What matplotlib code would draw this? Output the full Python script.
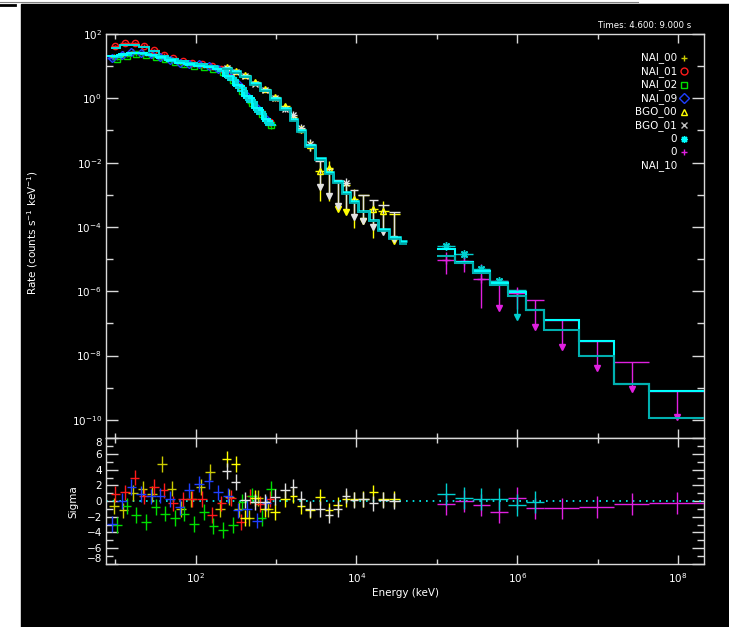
import numpy as np
import matplotlib
matplotlib.use("Agg")
import matplotlib.pyplot as plt
from matplotlib.patches import Rectangle
from matplotlib.lines import Line2D
from matplotlib.ticker import FixedLocator, NullFormatter

nan = np.nan

# all energies are log10(keV), all rates log10(counts s^-1 keV^-1)

# ---- NaI detectors: bin centres (half width NAI_HW), rates, models, residuals
NAI_HW = 0.06
nai_err = [0.05, 0.04, 0.04, 0.04, 0.04, 0.04, 0.04, 0.04, 0.04, 0.04, 0.04, 0.04, 0.05, 0.06, 0.07, 0.09, 0.11]

nai00_e = [0.98, 1.10, 1.22, 1.34, 1.46, 1.58, 1.70, 1.82, 1.94, 2.06, 2.18, 2.30, 2.42, 2.54, 2.66, 2.78, 2.90]
nai00_rate = [1.30, 1.38, 1.43, 1.41, 1.35, 1.26, 1.18, 1.11, 1.06, 1.02, 0.97, 0.91, 0.67, 0.37, 0.01, -0.37, -0.71]
nai00_model = [1.31, 1.38, 1.42, 1.40, 1.34, 1.25, 1.17, 1.10, 1.05, 1.01, 0.96, 0.90, 0.67, 0.37, 0.02, -0.35, -0.70]
nai00_resid = [-0.6, -1.2, 1.0, 1.6, 0.9, 4.7, 1.6, -1.0, 0.3, 1.8, 3.7, -1.0, 0.5, -1.0, -2.2, 0.4, -1.0]

nai01_e = [1.00, 1.12, 1.24, 1.36, 1.48, 1.60, 1.72, 1.84, 1.96, 2.08, 2.20, 2.32, 2.44, 2.56, 2.68, 2.80, 2.92]
nai01_rate = [1.62, 1.72, 1.72, 1.64, 1.50, 1.36, 1.24, 1.16, 1.11, 1.07, 1.02, 0.92, 0.66, 0.34, -0.02, -0.40, -0.74]
nai01_model = [1.57, 1.67, 1.67, 1.60, 1.46, 1.33, 1.23, 1.15, 1.10, 1.06, 1.01, 0.92, 0.64, 0.32, -0.04, -0.42, -0.76]
nai01_resid = [0.9, 1.1, 3.0, 0.6, 1.8, 1.35, -0.3, 0.2, 0.3, 0.3, -1.8, -0.3, 0.4, -2.7, 0.6, -0.4, 0.3]

nai02_e = [1.02, 1.14, 1.26, 1.38, 1.50, 1.62, 1.74, 1.86, 1.98, 2.10, 2.22, 2.34, 2.46, 2.58, 2.70, 2.82, 2.94]
nai02_rate = [1.23, 1.33, 1.37, 1.35, 1.29, 1.21, 1.13, 1.06, 1.01, 0.98, 0.92, 0.82, 0.56, 0.22, -0.14, -0.50, -0.84]
nai02_model = [1.30, 1.36, 1.40, 1.39, 1.32, 1.24, 1.16, 1.09, 1.05, 1.01, 0.96, 0.86, 0.57, 0.24, -0.12, -0.48, -0.82]
nai02_resid = [-3.1, -0.6, -1.8, -2.7, -0.8, -1.6, -2.2, -1.6, -2.9, -1.4, -3.2, -3.7, -3.1, -0.1, 0.7, -2.2, 1.6]

nai09_e = [0.96, 1.08, 1.20, 1.32, 1.44, 1.56, 1.68, 1.80, 1.92, 2.04, 2.16, 2.28, 2.40, 2.52, 2.64, 2.76, 2.88]
nai09_rate = [1.25, 1.35, 1.43, 1.42, 1.37, 1.29, 1.19, 1.11, 1.08, 1.06, 1.01, 0.92, 0.71, 0.43, 0.06, -0.31, -0.65]
nai09_model = [1.31, 1.35, 1.40, 1.40, 1.36, 1.28, 1.18, 1.11, 1.06, 1.02, 0.97, 0.90, 0.70, 0.42, 0.07, -0.29, -0.64]
nai09_resid = [-2.9, 0.0, 1.8, 0.9, 0.6, 0.7, 0.3, -0.8, 1.35, 2.2, 2.6, 1.1, 0.7, -1.2, -1.0, -2.5, -0.3]

# ---- BGO detectors (shared bins)
bgo_edges = [2.33, 2.44, 2.55, 2.68, 2.80, 2.92, 3.05, 3.17, 3.26, 3.36, 3.48,
             3.61, 3.71, 3.82, 3.92, 4.02, 4.15, 4.27, 4.40, 4.54, 4.63]

bgo0_rate = [0.96, 0.86, 0.72, 0.52, 0.30, 0.04, -0.25, -0.58, -0.95, -1.45,
             -2.25, -2.18, nan, nan, -3.13, nan, -3.44, -3.49, nan, nan]
bgo0_up = [0.04, 0.04, 0.04, 0.05, 0.05, 0.06, 0.07, 0.08, 0.10, 0.14,
           0.30, 0.22, nan, nan, 0.30, nan, 0.25, 0.30, nan, nan]
bgo0_down = [0.04, 0.04, 0.05, 0.05, 0.06, 0.07, 0.08, 0.10, 0.13, 0.20,
             0.95, 1.00, nan, nan, 0.90, nan, 0.90, 0.70, nan, nan]
bgo0_ul = [nan, nan, nan, nan, nan, nan, nan, nan, nan, nan,
           nan, nan, -2.60, -2.70, nan, -3.00, nan, nan, -3.60, nan]
bgo0_model = [0.95, 0.84, 0.70, 0.47, 0.27, 0.00, -0.30, -0.65, -1.00, -1.45,
              -1.86, -2.30, -2.58, -2.92, -3.20, -3.50, -3.77, -4.06, -4.32, -4.45]
bgo0_resid = [5.4, 4.7, -2.2, 0.4, -1.0, -1.4, 0.3, 0.7, -0.6, -1.2,
              0.5, -1.2, -0.5, 0.3, 0.2, 0.3, 1.1, 0.2, 0.3, nan]

bgo1_rate = [0.93, 0.82, 0.68, 0.46, 0.26, 0.00, -0.32, -0.51, -0.92, -1.42,
             nan, nan, nan, -2.64, nan, nan, nan, nan, nan, nan]
bgo1_up = [0.04, 0.04, 0.05, 0.05, 0.06, 0.07, 0.08, 0.10, 0.12, 0.15,
           nan, nan, nan, 0.15, nan, nan, nan, nan, nan, nan]
bgo1_down = [0.04, 0.05, 0.05, 0.06, 0.07, 0.08, 0.10, 0.12, 0.15, 0.22,
             nan, nan, nan, 0.85, nan, nan, nan, nan, nan, nan]
bgo1_ul = [nan, nan, nan, nan, nan, nan, nan, nan, nan, nan,
           -1.94, -2.20, -2.53, nan, -2.85, -3.00, -3.16, -3.33, -3.55, nan]
bgo1_model = [0.90, 0.80, 0.66, 0.42, 0.22, -0.05, -0.36, -0.70, -1.05, -1.50,
              -1.92, -2.36, -2.62, -2.97, -3.25, -3.55, -3.82, -4.12, -4.38, -4.52]
bgo1_resid = [3.8, 2.4, 0.1, -0.1, -0.1, 0.5, 1.35, 1.8, 0.3, -1.0,
              -1.0, -1.8, -1.0, 0.7, 0.1, 0.2, -0.3, 0.1, 0.0, nan]

# ---- LAT ("0") detectors (shared bins)
lat_edges = [5.0, 5.226, 5.446, 5.661, 5.882, 6.105, 6.333, 6.768, 7.208, 7.643, 8.33]

lat0_rate = [-4.58, -4.85, -5.30, -5.68, nan, nan, nan, nan, nan, nan]
lat0_up = [0.10, 0.10, 0.13, 0.12, nan, nan, nan, nan, nan, nan]
lat0_down = [0.10, 0.10, 0.13, 0.12, nan, nan, nan, nan, nan, nan]
lat0_ul = [nan, nan, nan, nan, -5.96, nan, nan, nan, nan, nan]
lat0_model = [-4.91, -5.13, -5.43, -5.81, -6.16, -6.58, -7.20, -8.02, -8.88, -9.94]
lat0_resid = [0.85, 0.4, 0.3, 0.3, -0.55, -0.15, nan, nan, nan, nan]

lat1_rate = [-5.02, -5.06, -5.62, nan, -6.05, nan, nan, nan, nan, nan]
lat1_up = [0.23, 0.27, 0.47, nan, 0.19, nan, nan, nan, nan, nan]
lat1_down = [0.46, 0.34, 0.90, nan, 0.50, nan, nan, nan, nan, nan]
lat1_ul = [nan, nan, nan, -5.69, nan, -6.27, -6.91, -7.56, -8.21, -9.09]
lat1_model = [-4.685, -5.10, -5.36, -5.75, -6.03, -6.58, -6.91, -7.56, -8.88, -9.09]
lat1_resid = [-0.4, 0.0, -0.55, -1.4, 0.4, -0.95, -0.95, -0.75, -0.4, -0.25]

legend_labels = ["NAI_00", "NAI_01", "NAI_02", "NAI_09", "BGO_00", "BGO_01", "0", "0", "NAI_10"]

YEL_NAI = "#cccc00"
RED = "#ff1a1a"
GRN = "#00e000"
BLU = "#1f3fff"
YEL_BGO = "#ffff00"
WHT = "#e2e2e2"
CYN = "#00ffff"
TEAL = "#00b0b0"
MAG = "#e020e0"
FRAME = "#d9d9d9"
ASTER = (8, 2, 0)
UL_DROP = 0.83


def arr(a):
    return np.asarray(a, dtype=float)


def points(ax, lo, hi, rate, down, up, color, marker, ms=4.5):
    lo, hi, rate, down, up = map(arr, (lo, hi, rate, down, up))
    ok = ~np.isnan(rate)
    mid = (lo + hi) / 2
    x, y = 10 ** mid[ok], 10 ** rate[ok]
    xerr = [x - 10 ** lo[ok], 10 ** hi[ok] - x]
    yerr = [y - 10 ** (rate[ok] - down[ok]), 10 ** (rate[ok] + up[ok]) - y]
    ax.errorbar(x, y, xerr=xerr, yerr=yerr, fmt="none", ecolor=color, elinewidth=1, zorder=3)
    ax.plot(x, y, ls="none", marker=marker, ms=ms, mec=color, mfc="none", mew=1, zorder=4)


def limits(ax, lo, hi, top, color):
    lo, hi, top = map(arr, (lo, hi, top))
    ok = ~np.isnan(top)
    mid = (lo + hi) / 2
    ax.hlines(10 ** top[ok], 10 ** lo[ok], 10 ** hi[ok], color=color, lw=1, zorder=3)
    ax.vlines(10 ** mid[ok], 10 ** (top[ok] - UL_DROP), 10 ** top[ok], color=color, lw=1, zorder=3)
    ax.plot(10 ** mid[ok], 10 ** (top[ok] - UL_DROP), ls="none", marker="v", ms=5,
            color=color, zorder=4)


def model(ax, edges, vals, color, lw=1.4):
    ax.stairs(10 ** arr(vals), 10 ** arr(edges), color=color, lw=lw, baseline=None, zorder=5)


def resid(ax, lo, hi, res, color, err=1.0):
    lo, hi, res = map(arr, (lo, hi, res))
    ok = ~np.isnan(res)
    mid = (lo + hi) / 2
    x = 10 ** mid[ok]
    ax.errorbar(x, res[ok], xerr=[x - 10 ** lo[ok], 10 ** hi[ok] - x], yerr=err,
                fmt="none", ecolor=color, elinewidth=1, zorder=3)


fig = plt.figure(figsize=(7.29, 6.27), dpi=100, facecolor="white")
fig.patches.append(Rectangle((21 / 729, 0), 1 - 21 / 729, 1 - 4 / 627,
                             transform=fig.transFigure, color="black", zorder=-10))
fig.add_artist(Line2D([0, 638 / 729], [1 - 1.5 / 627] * 2, color="#808080", lw=0.8))
fig.add_artist(Line2D([0, 15 / 729], [1 - 4.5 / 627] * 2, color="black", lw=2))

ax = fig.add_axes([106 / 729, 1 - 438 / 627, 598 / 729, 404 / 627])
ax2 = fig.add_axes([106 / 729, 1 - 564 / 627, 598 / 729, 126 / 627], sharex=ax)

# NaI spectra
nai_sets = [
    (nai00_e, nai00_rate, nai00_model, nai00_resid, YEL_NAI, "+", CYN),
    (nai01_e, nai01_rate, nai01_model, nai01_resid, RED, "o", "#00dcdc"),
    (nai02_e, nai02_rate, nai02_model, nai02_resid, GRN, "s", "#00dcdc"),
    (nai09_e, nai09_rate, nai09_model, nai09_resid, BLU, "D", CYN),
]
for e, rate, mod, res, col, mk, mcol in nai_sets:
    e = arr(e)
    lo, hi = e - NAI_HW, e + NAI_HW
    points(ax, lo, hi, rate, nai_err, nai_err, col, mk, ms=4 if mk == "D" else 4.5)
    model(ax, np.append(lo, hi[-1]), mod, mcol, lw=1.4)
    resid(ax2, lo, hi, res, col)

# BGO spectra
be = arr(bgo_edges)
for rate, up, down, ul, mod, res, col, mk, mcol, mlw in [
        (bgo0_rate, bgo0_up, bgo0_down, bgo0_ul, bgo0_model, bgo0_resid, YEL_BGO, "^", CYN, 1.8),
        (bgo1_rate, bgo1_up, bgo1_down, bgo1_ul, bgo1_model, bgo1_resid, WHT, "x", TEAL, 1.3)]:
    points(ax, be[:-1], be[1:], rate, down, up, col, mk)
    limits(ax, be[:-1], be[1:], ul, col)
    model(ax, be, mod, mcol, lw=mlw)
    resid(ax2, be[:-1], be[1:], res, col)

# LAT spectra
le = arr(lat_edges)
for rate, up, down, ul, mod, res, col, mk, mcol in [
        (lat1_rate, lat1_up, lat1_down, lat1_ul, lat1_model, lat1_resid, MAG, "+", CYN),
        (lat0_rate, lat0_up, lat0_down, lat0_ul, lat0_model, lat0_resid, "#00d0d0", ASTER, TEAL)]:
    points(ax, le[:-1], le[1:], rate, down, up, col, mk, ms=6)
    limits(ax, le[:-1], le[1:], ul, col)
    model(ax, le, mod, mcol, lw=1.5)
    resid(ax2, le[:-1], le[1:], res, col, err=1.4)

ax2.axhline(0, color=CYN, ls=(0, (1, 3)), lw=1.2, zorder=2)

# axes styling
ax.set_xscale("log")
ax.set_yscale("log")
ax.set_xlim(10 ** 0.884, 10 ** 8.323)
ax.set_ylim(10 ** -10.566, 1e2)
ax2.set_ylim(-8.05, 8.06)

for a in (ax, ax2):
    a.set_facecolor("black")
    for s in a.spines.values():
        s.set_color(FRAME)
        s.set_linewidth(1)
    a.tick_params(which="both", direction="in", top=True, right=True, color=FRAME,
                  labelcolor="white", labelsize=7.5, width=1)
    a.xaxis.set_major_locator(FixedLocator([1e2, 1e4, 1e6, 1e8]))
    a.xaxis.set_minor_locator(FixedLocator([1e1, 1e3, 1e5, 1e7]))
    a.xaxis.set_minor_formatter(NullFormatter())
    a.tick_params(axis="x", which="major", length=6.5)
    a.tick_params(axis="x", which="minor", length=3.6)
    a.tick_params(axis="y", which="major", length=8.6, pad=3)
    a.tick_params(axis="y", which="minor", length=5)

ax.yaxis.set_major_locator(FixedLocator([10.0 ** k for k in range(-10, 3, 2)]))
ax.yaxis.set_minor_locator(FixedLocator([10.0 ** k for k in range(-9, 2, 2)]))
ax.yaxis.set_minor_formatter(NullFormatter())
ax.tick_params(labelbottom=False)

ax2.yaxis.set_major_locator(FixedLocator(list(range(-8, 9, 2))))
ax2.yaxis.set_minor_locator(FixedLocator(list(range(-7, 8, 2))))
ax2.tick_params(axis="x", which="major", pad=5)
ticks = ax2.yaxis.get_major_ticks()
ticks[0].label1.set_verticalalignment("bottom")
ticks[-1].label1.set_verticalalignment("top")

# axis titles and header
fig.text(33 / 729, 1 - 233 / 627, "Rate (counts s$^{-1}$ keV$^{-1}$)", rotation=90,
         color="white", fontsize=7.5, ha="center", va="center")
fig.text(73 / 729, 1 - 502 / 627, "Sigma", rotation=90, color="white", fontsize=7.5,
         ha="center", va="center")
fig.text(405 / 729, 1 - 593 / 627, "Energy (keV)", color="white", fontsize=7.5,
         ha="center", va="center")
fig.text(691 / 729, 1 - 25 / 627, "Times: 4.600: 9.000 s", color="white", fontsize=6.2,
         ha="right", va="center")

# legend
leg_marks = [("+", YEL_NAI), ("o", RED), ("s", GRN), ("D", BLU), ("^", YEL_BGO),
             ("x", "#bdbdbd"), (ASTER, CYN), ("+", MAG), (None, None)]
for i, (lab, (mk, col)) in enumerate(zip(legend_labels, leg_marks)):
    yy = (438 - (57.7 + 13.5 * i)) / 404
    ax.text((677 - 106) / 598, yy, lab, transform=ax.transAxes, color="white",
            fontsize=7.5, ha="right", va="center")
    if mk is not None:
        ax.plot([(684 - 106) / 598], [yy], transform=ax.transAxes, ls="none",
                marker=mk, ms=5, mec=col, mfc="none", mew=1, clip_on=False)

fig.savefig("out.png", dpi=100, facecolor=fig.get_facecolor())
